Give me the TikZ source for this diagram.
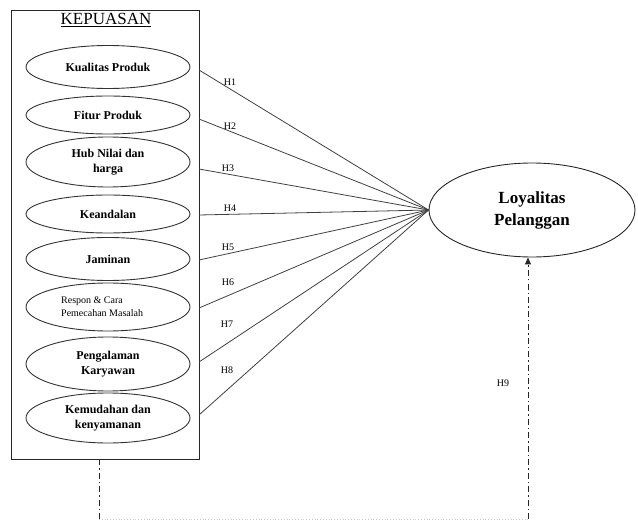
\documentclass[tikz,border=0pt]{standalone}
\usepackage{fontspec}
\setmainfont{Liberation Serif}
\usetikzlibrary{shapes.geometric,arrows.meta}
\begin{document}
\begin{tikzpicture}[x=1pt,y=-1pt,
  factor/.style={ellipse,draw=black!80,line width=0.9pt,fill=white,minimum width=164pt,inner sep=0pt,
     font=\fontsize{12}{14.5}\selectfont\bfseries,align=center},
  hline/.style={draw=black!75,line width=0.8pt},
  hlab/.style={font=\fontsize{10}{12}\selectfont,inner sep=0pt},
  dashdot/.style={draw=black!85,line width=0.9pt,dash pattern=on 6pt off 3pt on 1.5pt off 3pt}]
\useasboundingbox (0,0) rectangle (638,524);
\node[draw=black!85,line width=0.9pt,minimum width=188pt,minimum height=449pt,inner sep=0pt] (box) at (105,234.5) {};
\node[font=\fontsize{17}{20}\selectfont,inner sep=0pt] (title) at (106,20) {\underline{KEPUASAN}};
\node[factor,minimum height=43pt] (e1) at (108,67) {Kualitas Produk};
\node[factor,minimum height=38pt] (e2) at (108,115) {Fitur Produk};
\node[factor,minimum height=50pt] (e3) at (108,162) {Hub Nilai dan\\harga};
\node[factor,minimum height=38pt] (e4) at (108,214) {Keandalan};
\node[factor,minimum height=43pt] (e5) at (108,259) {Jaminan};
\node[factor,minimum height=48pt] (e6) at (108,307) {};
\node[font=\fontsize{10}{13}\selectfont,align=left,anchor=west,inner sep=0pt] (t6) at (61,307) {Respon \& Cara\\Pemecahan  Masalah};
\node[factor,minimum height=54pt] (e7) at (108,364) {Pengalaman\\Karyawan};
\node[factor,minimum height=50pt] (e8) at (108,418) {Kemudahan dan\\kenyamanan};
\node[ellipse,draw=black!85,line width=0.9pt,minimum width=206pt,minimum height=94pt,inner sep=0pt,
  font=\fontsize{17}{22}\selectfont\bfseries,align=center] (loy) at (532,210) {Loyalitas\\Pelanggan};
\coordinate (s1) at (199,70);
\coordinate (s2) at (199,119);
\coordinate (s3) at (199,169);
\coordinate (s4) at (199,215);
\coordinate (s5) at (199,260);
\coordinate (s6) at (199,308);
\coordinate (s7) at (199,362);
\coordinate (s8) at (199,415);
\foreach \i in {1,...,8} {\draw[hline] (s\i) -- (loy.west);}
\node[hlab] (h1) at (230,82) {H1};
\node[hlab] (h2) at (230,126) {H2};
\node[hlab] (h3) at (228,168) {H3};
\node[hlab] (h4) at (230,208) {H4};
\node[hlab] (h5) at (228,247) {H5};
\node[hlab] (h6) at (228,282) {H6};
\node[hlab] (h7) at (227,324) {H7};
\node[hlab] (h8) at (227,370) {H8};
\node[hlab] (h9) at (503,383) {H9};
\coordinate (c1) at (99,519);
\coordinate (c2) at (528,519);
\coordinate (b1) at (99,459);
\draw[dashdot] (b1) -- (c1);
\draw[draw=black!20,line width=0.8pt,dotted] (c1) -- (c2);
\draw[dashdot,-{Triangle[length=7pt,width=6pt]}] (c2) -- (c2 |- loy.south);
\end{tikzpicture}
\end{document}
